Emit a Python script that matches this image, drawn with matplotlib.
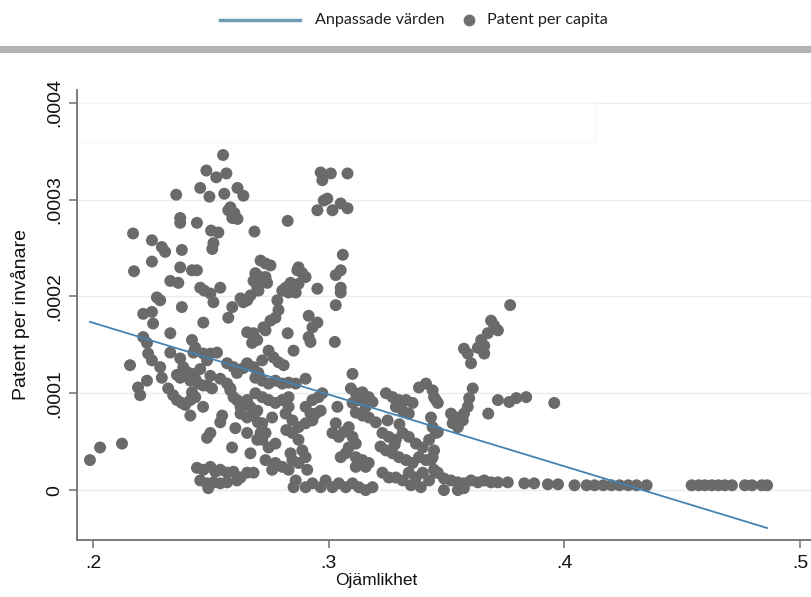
import numpy as np
import matplotlib
matplotlib.use("Agg")
import matplotlib.pyplot as plt
from matplotlib.lines import Line2D
from matplotlib.patches import Rectangle

# Ojämlikhet (x) och patent per invånare i enheter av 1e-4 (y)
ojamlikhet = [
    0.1987, 0.2030, 0.2123, 0.2552, 0.2481, 0.2523, 0.2566, 0.2455, 0.2353, 0.2494,
    0.2557, 0.2613, 0.2638, 0.2583, 0.2600, 0.2613, 0.2574, 0.2591, 0.2370, 0.2370,
    0.2441, 0.2170, 0.2501, 0.2532, 0.2511, 0.2506, 0.2377, 0.2250, 0.2292, 0.2306,
    0.2685, 0.2826, 0.2174, 0.2250, 0.2370, 0.2420, 0.2441, 0.2328, 0.2362, 0.2711,
    0.2732, 0.2753, 0.2455, 0.2472, 0.2498, 0.2511, 0.2540, 0.2377, 0.2271, 0.2285,
    0.2213, 0.2250, 0.2255, 0.2328, 0.2468, 0.2574, 0.2626, 0.2654, 0.2668, 0.2702,
    0.2739, 0.2711, 0.2782, 0.2787, 0.2774, 0.2817, 0.2838, 0.2867, 0.2851, 0.2826,
    0.2681, 0.2697, 0.2723, 0.2213, 0.2229,
    0.2591, 0.2638, 0.2654, 0.2675, 0.2420, 0.2434, 0.2426, 0.2468, 0.2498, 0.2526,
    0.2484, 0.2328, 0.2234, 0.2250, 0.2157, 0.2285, 0.2292, 0.2370, 0.2383, 0.2399,
    0.2356, 0.2370, 0.2229, 0.2191, 0.2200, 0.2413, 0.2434, 0.2447, 0.2468, 0.2484,
    0.2505, 0.2420, 0.2434, 0.2413, 0.2319, 0.2340, 0.2356, 0.2377, 0.2391, 0.2413,
    0.2467, 0.2569, 0.2596, 0.2611, 0.2638, 0.2654, 0.2681, 0.2702, 0.2569, 0.2583,
    0.2596, 0.2611, 0.2626, 0.2654, 0.2668, 0.2697, 0.2681, 0.2654, 0.2626, 0.2548,
    0.2540, 0.2498, 0.2484, 0.2604, 0.2654, 0.2590, 0.2668, 0.2697, 0.2711,
    0.2441, 0.2468, 0.2498, 0.2519, 0.2540, 0.2569, 0.2596, 0.2626, 0.2654, 0.2681,
    0.2455, 0.2484, 0.2511, 0.2489, 0.2540, 0.2569, 0.2611,
    0.2966, 0.3009, 0.2973, 0.3080, 0.2994, 0.2979, 0.2952, 0.3016, 0.3051, 0.3080,
    0.3060, 0.3051, 0.3030, 0.3051, 0.3051, 0.2952, 0.3030, 0.2689, 0.2732, 0.2872,
    0.2888, 0.2902, 0.2846, 0.2872, 0.2830, 0.2803, 0.2860, 0.2681, 0.2697,
    0.2753, 0.2732, 0.2915, 0.2952, 0.2931, 0.2915, 0.2923, 0.3026, 0.2745, 0.2766,
    0.2787, 0.2809, 0.2718, 0.2689, 0.2718, 0.2745, 0.2774, 0.2803, 0.2830, 0.2860,
    0.2902, 0.2689, 0.2718, 0.2745, 0.2774, 0.2803, 0.2830, 0.2830, 0.2817, 0.2846,
    0.2872, 0.2902, 0.2931, 0.2945, 0.2902, 0.2931, 0.2957, 0.2973, 0.2718, 0.2732,
    0.2774, 0.2745, 0.2718, 0.2846, 0.2872, 0.2888, 0.2902, 0.2872, 0.2846, 0.2774,
    0.2803, 0.2830, 0.2760, 0.2732, 0.2860, 0.2902, 0.2931, 0.2987, 0.3016, 0.3043,
    0.3072, 0.3101, 0.3128, 0.3157, 0.3186, 0.3037, 0.3101, 0.3094, 0.3115, 0.3143,
    0.3170, 0.3128, 0.3101, 0.3157, 0.3186, 0.3115, 0.3143, 0.3170, 0.3030, 0.3016,
    0.3043, 0.3064, 0.3085, 0.3101, 0.3115, 0.3085, 0.3072, 0.3115, 0.3143, 0.3170,
    0.3115, 0.3157, 0.3243, 0.3271, 0.3298, 0.3328, 0.3356, 0.3383, 0.3413, 0.3441,
    0.3285, 0.3314, 0.3340, 0.3228, 0.3255, 0.3285, 0.3314, 0.3340, 0.3370, 0.3399,
    0.3426, 0.3455, 0.3243, 0.3271, 0.3298, 0.3328, 0.3356, 0.3383, 0.3413, 0.3441,
    0.3228, 0.3255, 0.3285, 0.3314, 0.3340, 0.3370, 0.3399, 0.3426, 0.3455,
    0.3051, 0.2966, 0.2851, 0.2838, 0.2909, 0.2966, 0.2923,
    0.3770, 0.3689, 0.3702, 0.3718, 0.3675, 0.3647, 0.3660, 0.3633, 0.3574, 0.3590,
    0.3604, 0.3660, 0.3447, 0.3463, 0.3434, 0.3611, 0.3596, 0.3590, 0.3574, 0.3548,
    0.3519, 0.3532, 0.3569, 0.3526, 0.3548, 0.3718, 0.3766, 0.3796, 0.3838, 0.3677,
    0.3957, 0.3441, 0.3463, 0.3447, 0.3434, 0.3447, 0.3455,
    0.3463, 0.3489, 0.3519, 0.3548, 0.3574, 0.3604, 0.3633, 0.3660, 0.3689, 0.3718,
    0.3760, 0.3830, 0.3872, 0.3930, 0.3973, 0.4043, 0.4094, 0.4128, 0.4165, 0.4200,
    0.4234, 0.4271, 0.4306, 0.4349, 0.4540, 0.4570, 0.4596, 0.4626, 0.4654, 0.4681,
    0.4711, 0.4766, 0.4796, 0.4838, 0.4860, 0.3489, 0.3548, 0.3574, 0.3349, 0.3391,
    # extra punkter i täta områden
    0.2420, 0.2455, 0.2498, 0.2540, 0.2583, 0.3200, 0.3250, 0.3300, 0.3220, 0.3280,
    0.2700, 0.2760, 0.2820,
]
patent_e4 = [
    0.31, 0.44, 0.48, 3.46, 3.30, 3.23, 3.27, 3.12, 3.05, 3.03,
    3.06, 3.12, 3.04, 2.92, 2.86, 2.80, 2.89, 2.81, 2.81, 2.76,
    2.76, 2.65, 2.68, 2.66, 2.55, 2.49, 2.48, 2.58, 2.51, 2.46,
    2.67, 2.78, 2.26, 2.36, 2.30, 2.27, 2.27, 2.16, 2.14, 2.37,
    2.34, 2.32, 2.09, 2.06, 2.03, 1.94, 2.09, 1.89, 1.99, 1.96,
    1.82, 1.84, 1.72, 1.62, 1.73, 1.78, 1.98, 1.96, 2.01, 2.06,
    2.14, 2.20, 1.96, 1.86, 1.78, 2.09, 2.14, 2.27, 1.44, 1.62,
    1.62, 1.55, 1.68, 1.58, 1.52,
    1.89, 1.94, 1.63, 1.52, 1.55, 1.47, 1.42, 1.41, 1.41, 1.42,
    1.34, 1.42, 1.41, 1.34, 1.29, 1.27, 1.16, 1.36, 1.27, 1.22,
    1.19, 1.16, 1.13, 1.06, 0.98, 1.13, 1.15, 1.10, 1.08, 1.08,
    1.05, 1.01, 0.96, 0.93, 1.05, 0.98, 0.93, 0.90, 0.88, 0.77,
    0.86, 1.31, 1.27, 1.21, 1.26, 1.31, 1.27, 1.21, 1.10, 1.03,
    0.96, 0.93, 0.86, 0.93, 0.86, 0.82, 0.77, 0.75, 0.79, 0.77,
    0.70, 0.59, 0.54, 0.64, 0.59, 0.44, 0.38, 0.52, 0.59,
    0.23, 0.21, 0.24, 0.19, 0.21, 0.18, 0.19, 0.13, 0.18, 0.18,
    0.10, 0.07, 0.08, 0.02, 0.07, 0.08, 0.10,
    3.28, 3.27, 3.20, 3.27, 3.01, 2.99, 2.89, 2.89, 2.96, 2.91,
    2.43, 2.27, 2.22, 2.09, 2.04, 2.08, 1.91, 2.24, 2.20, 2.30,
    2.24, 2.20, 2.09, 2.13, 2.04, 2.06, 2.04, 2.16, 2.09,
    1.75, 1.65, 1.80, 1.73, 1.68, 1.58, 1.53, 1.53, 1.44, 1.37,
    1.32, 1.29, 1.34, 1.16, 1.13, 1.10, 1.13, 1.10, 1.11, 1.10,
    1.15, 1.00, 0.96, 0.93, 0.90, 0.93, 0.96, 0.86, 0.79, 0.72,
    0.65, 0.69, 0.72, 0.79, 0.86, 0.93, 0.96, 1.00, 0.69, 0.59,
    0.48, 0.44, 0.52, 0.59, 0.52, 0.41, 0.34, 0.28, 0.31, 0.28,
    0.24, 0.21, 0.21, 0.31, 0.10, 0.03, 0.07, 0.10, 0.03, 0.07,
    0.03, 0.07, 0.03, 0.00, 0.03, 0.86, 1.20, 1.05, 1.00, 1.01,
    0.96, 0.93, 0.90, 0.86, 0.91, 0.80, 0.77, 0.75, 0.69, 0.59,
    0.55, 0.60, 0.65, 0.55, 0.48, 0.44, 0.38, 0.34, 0.31, 0.28,
    0.24, 0.24, 1.00, 0.96, 0.93, 0.93, 0.90, 1.06, 1.10, 1.03,
    0.86, 0.82, 0.79, 0.59, 0.55, 0.52, 0.59, 0.55, 0.48, 0.44,
    0.52, 0.59, 0.41, 0.38, 0.34, 0.31, 0.28, 0.34, 0.31, 0.34,
    0.18, 0.13, 0.13, 0.10, 0.18, 0.13, 0.18, 0.10, 0.18,
    0.34, 0.03, 0.03, 0.38, 0.21, 0.82, 0.79,
    1.91, 1.75, 1.70, 1.65, 1.62, 1.55, 1.49, 1.47, 1.46, 1.41,
    1.31, 1.41, 0.96, 0.90, 0.75, 1.05, 0.95, 0.86, 0.79, 0.75,
    0.79, 0.72, 0.72, 0.69, 0.65, 0.93, 0.91, 0.95, 0.96, 0.79,
    0.90, 0.65, 0.60, 0.41, 0.31, 0.21, 0.93,
    0.18, 0.12, 0.10, 0.08, 0.07, 0.10, 0.08, 0.10, 0.08, 0.08,
    0.08, 0.07, 0.07, 0.06, 0.06, 0.05, 0.05, 0.05, 0.05, 0.05,
    0.05, 0.05, 0.05, 0.05, 0.05, 0.05, 0.05, 0.05, 0.05, 0.05,
    0.05, 0.05, 0.05, 0.05, 0.05, 0.00, 0.00, 0.02, 0.05, 0.03,
    1.20, 1.25, 1.18, 1.15, 1.05, 0.70, 0.72, 0.68, 0.45, 0.47,
    0.70, 0.75, 0.62,
]

# anpassad linje (läst från bilden)
fit_intercept = 0.000321
fit_slope = -0.000741

x_ticks = [0.2, 0.3, 0.4, 0.5]
x_ticklabels = [".2", ".3", ".4", ".5"]
y_ticks = [0, 0.0001, 0.0002, 0.0003, 0.0004]
y_ticklabels = ["0", ".0001", ".0002", ".0003", ".0004"]

x = np.array(ojamlikhet)
y = np.array(patent_e4) * 1e-4

fig = plt.figure(figsize=(8.12, 5.97), dpi=100)
ax = fig.add_axes([0.0948, 0.0955, 0.905, 0.7535])

point_col = "#6a6a6a"
line_col = "#4383b2"

for yt in y_ticks:
    ax.axhline(yt, color="#e4eef3", lw=1.0, zorder=0)

# vit ruta överst (skymd legend i originalet)
ax.add_patch(Rectangle((0.1932, 0.000359), 0.4132 - 0.1932, 0.0000412,
                       facecolor="white", edgecolor="#f0f5f7", lw=0.8, zorder=0.5))

ax.scatter(x, y, s=74, color=point_col, edgecolors="none", zorder=2)

xfit = np.array([x.min(), x.max()])
ax.plot(xfit, fit_intercept + fit_slope * xfit, color=line_col, lw=1.3, zorder=3)

ax.set_xlim(0.1932, 0.505)
ax.set_ylim(-0.0000515, 0.000413)
ax.set_xticks(x_ticks)
ax.set_xticklabels(x_ticklabels)
ax.set_yticks(y_ticks)
ax.set_yticklabels(y_ticklabels, rotation=90, va="center")

for s in ["top", "right"]:
    ax.spines[s].set_visible(False)
for s in ["left", "bottom"]:
    ax.spines[s].set_color("#707070")
    ax.spines[s].set_linewidth(1.3)
ax.tick_params(axis="both", length=6, width=1.1, color="#707070", labelsize=14,
               labelcolor="#111111", labelfontfamily="Liberation Sans")
ax.tick_params(axis="y", pad=4)
ax.tick_params(axis="x", pad=5)

fig.text(376 / 812, 1 - 580 / 597, "Ojämlikhet", ha="center", va="center",
         fontsize=12.5, family="Liberation Sans", color="#111111")
fig.text(21 / 812, 1 - 315 / 597, "Patent per invånare", ha="center", va="center",
         rotation=90, fontsize=14, family="Liberation Sans", color="#111111")

# legend överst
fig.add_artist(Line2D([220 / 812, 300 / 812], [1 - 20 / 597, 1 - 20 / 597],
                      color="#6e9bb6", lw=2.5))
fig.text(315 / 812, 1 - 20 / 597, "Anpassade värden", ha="left", va="center",
         fontsize=11.6, family="Lato", color="#1e1e1e")
fig.add_artist(Line2D([469 / 812], [1 - 20 / 597], marker="o", markersize=7.5,
                      color="#707070", lw=0))
fig.text(487 / 812, 1 - 20 / 597, "Patent per capita", ha="left", va="center",
         fontsize=11.6, family="Lato", color="#1e1e1e")

# grå list under legenden
fig.add_artist(Rectangle((0, 1 - 53 / 597), 1, 7 / 597, facecolor="#b2b2b5",
                         edgecolor="none", transform=fig.transFigure))

fig.savefig("out.png", dpi=100)
